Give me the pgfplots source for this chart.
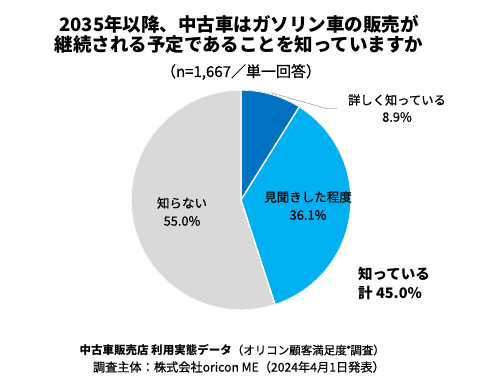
\documentclass[border=0pt]{standalone}
\usepackage{pgfplots}
\pgfplotsset{compat=1.18}
\usepgfplotslibrary{polar}
\usepackage{fontspec}
\setmainfont{Noto Sans CJK JP}
\newfontfamily\medfont[FakeBold=0.6]{Noto Sans CJK JP}
\newfontfamily\regfont{Noto Sans CJK JP}
\definecolor{dblue}{HTML}{0070C0}
\definecolor{lblue}{HTML}{00B0F0}
\definecolor{lgray}{HTML}{D9D9D9}
\definecolor{leader}{HTML}{A6A6A6}
% slice shares (%)
\def\pA{8.9}
\def\pB{36.1}
\def\pC{55.0}
\pgfmathsetmacro{\aA}{90}
\pgfmathsetmacro{\aB}{90-3.6*\pA}
\pgfmathsetmacro{\aC}{\aB-3.6*\pB}
\pgfmathsetmacro{\aD}{\aC-3.6*\pC}
\begin{document}
\begin{tikzpicture}[x=1pt,y=1pt]
\useasboundingbox (0,0) rectangle (479,387);
\begin{polaraxis}[
  at={(241pt,187pt)}, anchor=center,
  width=220pt, height=220pt, scale only axis,
  hide axis, ymin=0, ymax=1,
]
\addplot[fill=dblue, draw=white, line width=1.3pt, domain=\aB:\aA, samples=40] {1} -- (axis cs:0,0) -- cycle;
\addplot[fill=lblue, draw=white, line width=1.3pt, domain=\aC:\aB, samples=80] {1} -- (axis cs:0,0) -- cycle;
\addplot[fill=lgray, draw=white, line width=1.3pt, domain=\aD:\aC, samples=120] {1} -- (axis cs:0,0) -- cycle;
\end{polaraxis}
\draw[leader, line width=0.6pt] (271,294.3) -- (327,278.3) -- (337,278.3);
% title
\node[font=\fontsize{18.5}{20}\selectfont\bfseries] at (239,363) {2035年以降、中古車はガソリン車の販売が};
\node[font=\fontsize{18.5}{20}\selectfont\bfseries] at (239,342) {継続される予定であることを知っていますか};
\node[font=\fontsize{15}{16}\selectfont\medfont] at (241,315) {（n=1,667／単一回答）};
% labels
\node[font=\fontsize{12.3}{14}\selectfont\medfont] at (397,287) {詳しく知っている};
\node[font=\fontsize{12.8}{14}\selectfont\medfont] at (397,270) {8.9\%};
\node[font=\fontsize{12.5}{14}\selectfont\medfont] at (308,190) {見聞きした程度};
\node[font=\fontsize{12.8}{14}\selectfont\medfont] at (308,172) {36.1\%};
\node[font=\fontsize{12.5}{14}\selectfont\medfont] at (182,184) {知らない};
\node[font=\fontsize{12.8}{14}\selectfont\medfont] at (182,166) {55.0\%};
\node[font=\fontsize{14.5}{16}\selectfont\bfseries, anchor=west, inner sep=0pt] at (358,113) {知っている};
\node[font=\fontsize{14.5}{16}\selectfont\bfseries, anchor=west, inner sep=0pt] at (358,94) {計 45.0\%};
% footer
\node[font=\fontsize{11.5}{13}\selectfont, anchor=east, inner sep=0pt] at (385,37) {{\bfseries 中古車販売店 利用実態データ}{\medfont（オリコン顧客満足度\raisebox{0.45ex}{\fontsize{7.5}{8}\selectfont ®}調査）}};
\node[font=\fontsize{12.2}{13}\selectfont\medfont, anchor=east, inner sep=0pt] at (385,20) {調査主体：株式会社oricon ME（2024年4月1日発表）};
\end{tikzpicture}
\end{document}
